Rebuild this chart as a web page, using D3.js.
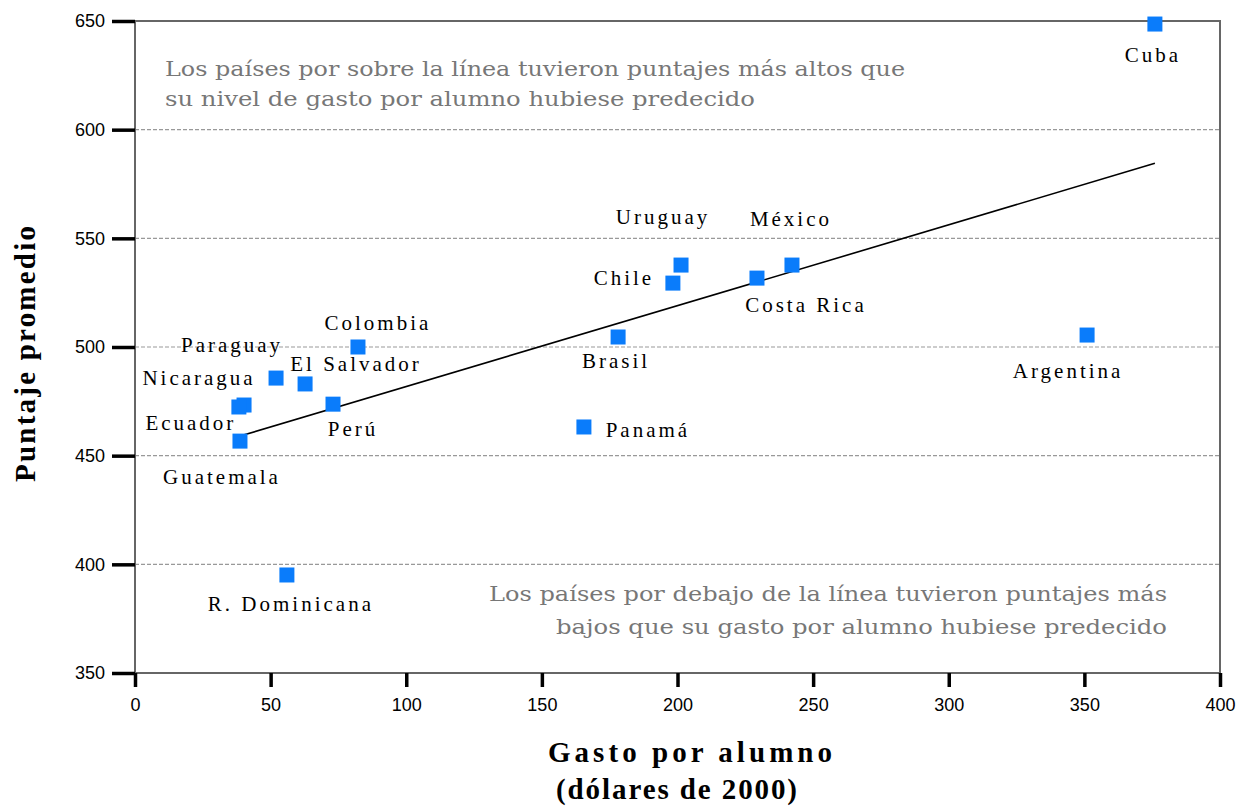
<!DOCTYPE html>
<html lang="es">
<head>
    <meta charset="UTF-8">
    <title>Gasto por alumno vs puntaje</title>
    <script src="https://d3js.org/d3.v7.min.js"></script>
    <style>
        body { margin: 0; background: #fff; }
        .tick-label { font-family: 'Liberation Sans', Arial, sans-serif; font-size: 18px; fill: #000; }
        .country { font-family: 'Liberation Serif', 'Times New Roman', serif; font-size: 21px; letter-spacing: 3px; fill: #000; }
        .note { font-family: 'DejaVu Serif', serif; font-size: 20px; fill: #777; }
        .axis-title { font-family: 'Liberation Serif', serif; font-weight: bold; font-size: 29px; fill: #000; }
    </style>
</head>
<body>
<svg id="chart" width="1237" height="806"></svg>
<script>
// data
const countries = ["Cuba", "Uruguay", "México", "Chile", "Costa Rica", "Brasil", "Argentina", "Panamá",
    "Colombia", "Paraguay", "El Salvador", "Nicaragua", "Ecuador", "Perú", "Guatemala", "R. Dominicana"];
const gasto = [376, 201.3, 242.2, 198.3, 229.3, 178.1, 351, 165.5, 82.2, 52, 62.7, 40.2, 38.3, 73, 38.7, 56];
const puntaje = [648.6, 537.7, 537.7, 529.4, 531.7, 504.6, 505.5, 463.2, 500, 485.7, 483, 473.3, 472.4, 473.7, 456.7, 395.1];
const trendX = [38.7, 376];
const trendY = [459, 584.5];
const xTicks = [0, 50, 100, 150, 200, 250, 300, 350, 400];
const yTicks = [350, 400, 450, 500, 550, 600, 650];

// label placement relative to each point (px)
const labelOffsets = [[-2, 38], [-18, -41], [-1, -39], [-49, 2], [49, 34], [-2, 31], [-19, 43], [64, 10],
    [20, -17], [-44, -26], [51, -13], [-45, -20], [-48, 23], [20, 32], [-18, 43], [4, 36]];

const plotLeft = 135, plotRight = 1220, plotTop = 21, plotBottom = 673;
const svg = d3.select("#chart");

const x = d3.scaleLinear().domain([0, 400]).range([plotLeft, plotRight]);
const y = d3.scaleLinear().domain([350, 650]).range([plotBottom, plotTop]);

// dashed grid
svg.append("g")
    .selectAll("line")
    .data(yTicks.filter(d => d !== 350 && d !== 650))
    .enter().append("line")
    .attr("x1", plotLeft).attr("x2", plotRight)
    .attr("y1", d => y(d)).attr("y2", d => y(d))
    .attr("stroke", "#999").attr("stroke-width", 1.2)
    .attr("stroke-dasharray", "4,2");

// frame
svg.append("rect")
    .attr("x", plotLeft).attr("y", plotTop)
    .attr("width", plotRight - plotLeft).attr("height", plotBottom - plotTop)
    .attr("fill", "none").attr("stroke", "#666").attr("stroke-width", 2);

// y axis
const yAxis = svg.append("g")
    .attr("transform", `translate(${plotLeft},0)`)
    .call(d3.axisLeft(y).tickValues(yTicks).tickSize(23).tickPadding(7));
yAxis.select(".domain").remove();
yAxis.selectAll(".tick line").attr("stroke", "#000").attr("stroke-width", 3.5);
yAxis.selectAll(".tick text").attr("class", "tick-label");
yAxis.attr("font-size", null).attr("font-family", null);

// x axis
const xAxis = svg.append("g")
    .attr("transform", `translate(0,${plotBottom})`)
    .call(d3.axisBottom(x).tickValues(xTicks).tickSize(14).tickPadding(11));
xAxis.select(".domain").remove();
xAxis.selectAll(".tick line").attr("stroke", "#000").attr("stroke-width", 3.5);
xAxis.selectAll(".tick text").attr("class", "tick-label");
xAxis.attr("font-size", null).attr("font-family", null);

// trend line
svg.append("path")
    .datum(trendX.map((d, i) => [d, trendY[i]]))
    .attr("d", d3.line().x(d => x(d[0])).y(d => y(d[1])))
    .attr("stroke", "#000").attr("stroke-width", 1.6).attr("fill", "none");

// points
const size = 15;
svg.append("g")
    .selectAll("rect")
    .data(countries)
    .enter().append("rect")
    .attr("x", (d, i) => x(gasto[i]) - size / 2)
    .attr("y", (d, i) => y(puntaje[i]) - size / 2)
    .attr("width", size).attr("height", size)
    .attr("fill", "#0a7cfb");

// country labels
svg.append("g")
    .selectAll("text")
    .data(countries)
    .enter().append("text")
    .attr("class", "country")
    .attr("x", (d, i) => x(gasto[i]) + labelOffsets[i][0])
    .attr("y", (d, i) => y(puntaje[i]) + labelOffsets[i][1])
    .attr("text-anchor", "middle")
    .text(d => d);

// notes
const upper = svg.append("text").attr("class", "note");
upper.append("tspan").attr("x", 165).attr("y", 76)
    .attr("textLength", 740).attr("lengthAdjust", "spacingAndGlyphs")
    .text("Los países por sobre la línea tuvieron puntajes más altos que");
upper.append("tspan").attr("x", 165).attr("y", 106)
    .attr("textLength", 590).attr("lengthAdjust", "spacingAndGlyphs")
    .text("su nivel de gasto por alumno hubiese predecido");

const lower = svg.append("text").attr("class", "note");
lower.append("tspan").attr("x", 489).attr("y", 601)
    .attr("textLength", 678).attr("lengthAdjust", "spacingAndGlyphs")
    .text("Los países por debajo de la línea tuvieron puntajes más");
lower.append("tspan").attr("x", 556).attr("y", 634)
    .attr("textLength", 611).attr("lengthAdjust", "spacingAndGlyphs")
    .text("bajos que su gasto por alumno hubiese predecido");

// axis titles
svg.append("text").attr("class", "axis-title")
    .attr("x", 548).attr("y", 762)
    .attr("textLength", 284).attr("lengthAdjust", "spacing")
    .text("Gasto por alumno");
svg.append("text").attr("class", "axis-title")
    .attr("x", 556).attr("y", 799)
    .attr("textLength", 241).attr("lengthAdjust", "spacing")
    .text("(dólares de 2000)");
svg.append("text").attr("class", "axis-title")
    .attr("transform", "translate(35,482) rotate(-90)")
    .attr("textLength", 256).attr("lengthAdjust", "spacing")
    .text("Puntaje promedio");
</script>
</body>
</html>
